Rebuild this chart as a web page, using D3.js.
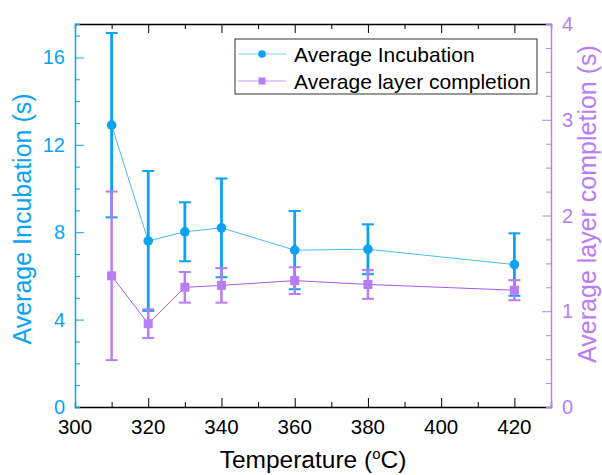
<!DOCTYPE html>
<html>
<head>
<meta charset="utf-8">
<script src="https://cdn.jsdelivr.net/npm/d3@7"></script>
<style>
    body { margin: 0; background: #fff; }
    text { font-family: Arial, "Liberation Sans", sans-serif; }
</style>
</head>
<body>
<div id="chart"></div>
<script>
// data
let temperatures = [310, 320, 330, 340, 360, 380, 420];
let incubation = [12.9, 7.6, 8.02, 8.2, 7.18, 7.22, 6.52];
let incubationErr = [4.22, 3.2, 1.35, 2.26, 1.79, 1.14, 1.43];
let layerCompletion = [1.37, 0.87, 1.25, 1.27, 1.32, 1.28, 1.22];
let layerCompletionErr = [0.88, 0.15, 0.16, 0.18, 0.14, 0.15, 0.105];
let xTicks = [300, 320, 340, 360, 380, 400, 420];
let yLeftTicks = [0, 4, 8, 12, 16];
let yRightTicks = [0, 1, 2, 3, 4];

let W = 602, H = 475;
let m = {left: 75, right: 51, top: 24, bottom: 68};
let blue = '#0aa2f5', blueLine = '#4cbaf6';
let purple = '#b77cf6', purpleLine = '#a45cf0';

let svg = d3.select('#chart').append('svg').attr('width', W).attr('height', H);

let x = d3.scaleLinear().domain([300, 430]).range([m.left, W - m.right]);
let yL = d3.scaleLinear().domain([0, 17.53]).range([H - m.bottom, m.top]);
let yR = d3.scaleLinear().domain([0, 4]).range([H - m.bottom, m.top]);

let x0 = m.left, x1 = W - m.right, y0 = H - m.bottom, y1 = m.top;

//坐标轴 - bottom and top (black)
let bottomAx = svg.append('g').attr('transform', `translate(0,${y0})`)
    .call(d3.axisBottom(x).tickValues(d3.range(310, 430, 10)).tickSize(-5).tickFormat(''));
bottomAx.selectAll('.tick line').attr('stroke-width', 1)
    .filter(d => d % 20 === 0).attr('y2', -9);
bottomAx.select('.domain').attr('stroke', '#000').attr('stroke-width', 1.3);

let topAx = svg.append('g').attr('transform', `translate(0,${y1})`)
    .call(d3.axisTop(x).tickValues(d3.range(310, 430, 10)).tickSize(-5).tickFormat(''));
topAx.selectAll('.tick line').filter(d => d % 20 === 0).attr('y2', 9);
topAx.select('.domain').attr('stroke', '#000').attr('stroke-width', 1.3);

//x tick labels
svg.append('g').selectAll('text').data(xTicks).enter().append('text')
    .attr('x', d => x(d)).attr('y', y0 + 27)
    .attr('text-anchor', 'middle').style('font-size', '20.5px').attr('fill', '#000')
    .text(d => d);

//left axis (blue)
let leftAx = svg.append('g').attr('transform', `translate(${x0},0)`)
    .call(d3.axisLeft(yL).tickValues(d3.range(1, 18, 1)).tickSize(-5).tickFormat(''));
leftAx.selectAll('.tick line').attr('stroke', blue)
    .filter(d => d % 4 === 0).attr('x2', 9);
leftAx.select('.domain').attr('stroke', blue).attr('stroke-width', 1.5);
svg.append('g').selectAll('text').data(yLeftTicks).enter().append('text')
    .attr('x', x0 - 10).attr('y', d => yL(d) + 7)
    .attr('text-anchor', 'end').style('font-size', '20px').attr('fill', blue)
    .text(d => d);

//right axis (purple)
let rightAx = svg.append('g').attr('transform', `translate(${x1},0)`)
    .call(d3.axisRight(yR).tickValues(d3.range(0.25, 4, 0.25)).tickSize(-5).tickFormat(''));
rightAx.selectAll('.tick line').attr('stroke', purple)
    .filter(d => d % 1 === 0).attr('x2', -9);
rightAx.select('.domain').attr('stroke', purple).attr('stroke-width', 1.5);
svg.append('g').selectAll('text').data(yRightTicks).enter().append('text')
    .attr('x', x1 + 11).attr('y', d => yR(d) + 7)
    .attr('text-anchor', 'start').style('font-size', '20px').attr('fill', purple)
    .text(d => d);

//axis titles
svg.append('text').attr('transform', `translate(313,468)`)
    .attr('text-anchor', 'middle').style('font-size', '24.5px').attr('fill', '#000')
    .html('Temperature (<tspan dy="-9" style="font-size:15px">o</tspan><tspan dy="9">C)</tspan>');
svg.append('text').attr('transform', `translate(31,219) rotate(-90)`)
    .attr('text-anchor', 'middle').style('font-size', '25px').attr('fill', blue)
    .text('Average Incubation (s)');
svg.append('text').attr('transform', `translate(596,204) rotate(-90)`)
    .attr('text-anchor', 'middle').style('font-size', '25px').attr('fill', purple)
    .text('Average layer completion (s)');

//series data
let incData = temperatures.map((t, i) => ({t: t, v: incubation[i], e: incubationErr[i]}));
let layData = temperatures.map((t, i) => ({t: t, v: layerCompletion[i], e: layerCompletionErr[i]}));

let drawErr = function (data, ys, color, cap, width) {
    let g = svg.append('g');
    data.forEach(d => {
        g.append('line').attr('x1', x(d.t)).attr('x2', x(d.t))
            .attr('y1', ys(d.v - d.e)).attr('y2', ys(d.v + d.e))
            .attr('stroke', color).attr('stroke-width', width);
        [d.v - d.e, d.v + d.e].forEach(v => {
            g.append('line').attr('x1', x(d.t) - cap).attr('x2', x(d.t) + cap)
                .attr('y1', ys(v)).attr('y2', ys(v))
                .attr('stroke', color).attr('stroke-width', 2);
        });
    });
};

let lineInc = d3.line().x(d => x(d.t)).y(d => yL(d.v));
let lineLay = d3.line().x(d => x(d.t)).y(d => yR(d.v));

drawErr(incData, yL, blue, 6, 2.8);
drawErr(layData, yR, purple, 6, 2.5);

svg.append('path').attr('d', lineInc(incData)).attr('fill', 'none')
    .attr('stroke', blueLine).attr('stroke-width', 1);
svg.append('path').attr('d', lineLay(layData)).attr('fill', 'none')
    .attr('stroke', purpleLine).attr('stroke-width', 1);

svg.append('g').selectAll('circle').data(incData).enter().append('circle')
    .attr('cx', d => x(d.t)).attr('cy', d => yL(d.v)).attr('r', 4.8).attr('fill', blue);
svg.append('g').selectAll('rect').data(layData).enter().append('rect')
    .attr('x', d => x(d.t) - 4.5).attr('y', d => yR(d.v) - 4.5)
    .attr('width', 9).attr('height', 9).attr('fill', purple);

//legend
let lg = svg.append('g');
lg.append('rect').attr('x', 235).attr('y', 39).attr('width', 302).attr('height', 55)
    .attr('fill', '#fff').attr('stroke', '#333').attr('stroke-width', 1);
let legendItems = [
    {name: 'Average Incubation', mark: blue, shape: 'circle'},
    {name: 'Average layer completion', mark: purple, shape: 'rect'}
];
legendItems.forEach((it, i) => {
    let cy = 54 + i * 27;
    lg.append('line').attr('x1', 238).attr('x2', 286).attr('y1', cy).attr('y2', cy)
        .attr('stroke', it.shape === 'circle' ? '#7fd0f8' : '#c79af8').attr('stroke-width', 1.2);
    if (it.shape === 'circle') {
        lg.append('circle').attr('cx', 262).attr('cy', cy).attr('r', 3.8).attr('fill', it.mark);
    } else {
        lg.append('rect').attr('x', 258.5).attr('y', cy - 3.5).attr('width', 7).attr('height', 7).attr('fill', it.mark);
    }
    lg.append('text').attr('x', 294).attr('y', cy + 7.5).style('font-size', '21px')
        .attr('fill', '#000').text(it.name);
});
</script>
</body>
</html>
